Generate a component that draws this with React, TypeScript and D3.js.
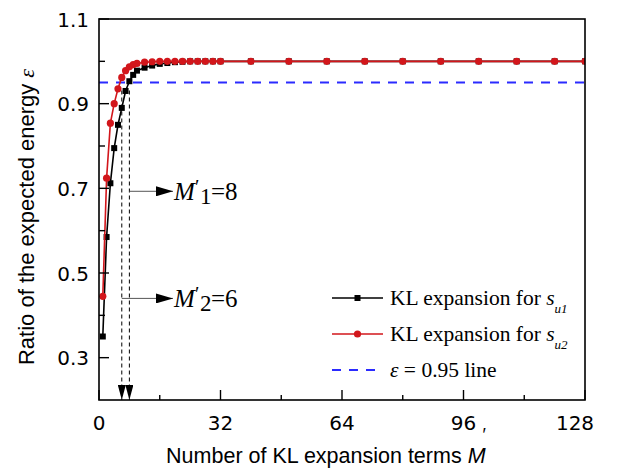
import React from "react";
import * as d3 from "d3";

// Number of KL expansion terms M'
const terms = [1, 2, 3, 4, 5, 6, 7, 8, 9, 10, 12, 14, 16, 18, 20, 22, 24, 26, 28, 30, 32, 40, 50, 60, 70, 80, 90, 100, 110, 120, 128];
// Ratio of the expected energy for s_u1
const ratioSu1 = [0.35, 0.585, 0.712, 0.795, 0.85, 0.89, 0.93, 0.953, 0.968, 0.978, 0.985, 0.99, 0.994, 0.996, 0.998, 0.999, 1.0, 1.0, 1.0, 1.0, 1.0, 1.0, 1.0, 1.0, 1.0, 1.0, 1.0, 1.0, 1.0, 1.0, 1.0];
// Ratio of the expected energy for s_u2
const ratioSu2 = [0.445, 0.724, 0.854, 0.9, 0.935, 0.962, 0.978, 0.987, 0.992, 0.995, 0.998, 0.999, 1.0, 1.0, 1.0, 1.0, 1.0, 1.0, 1.0, 1.0, 1.0, 1.0, 1.0, 1.0, 1.0, 1.0, 1.0, 1.0, 1.0, 1.0, 1.0];
const threshold = 0.95;
const xTicks = [0, 16, 32, 48, 64, 80, 96, 112, 128];
const xTickLabels = [0, 32, 64, 96, 128];
const yTicks = [0.3, 0.4, 0.5, 0.6, 0.7, 0.8, 0.9, 1.0, 1.1];
const yTickLabels = [0.3, 0.5, 0.7, 0.9, 1.1];
// selected number of terms for each process, with the ratio level where the note sits
const chosenTerms = [
  { m: 8, sub: "1", label: "=8", at: 0.693 },
  { m: 6, sub: "2", label: "=6", at: 0.44 },
];

const W = 621;
const H = 470;
const left = 99, right = 585, top = 19, bottom = 400;

const sans = "'Liberation Sans', Arial, sans-serif";
const digits = "'DejaVu Sans', sans-serif";
const serif = "'Liberation Serif', 'Times New Roman', serif";
const RED = "#d2161b";
const BLUE = "#2b2bff";

export default function App() {
  const x = d3.scaleLinear().domain([0, 128]).range([left, right]);
  const y = d3.scaleLinear().domain([0.2, 1.1]).range([bottom, top]);
  const line = d3
    .line<number>()
    .x((_, i) => x(terms[i]))
    .y((v) => y(v));

  const legendY = [298, 334, 370];
  const lx0 = 332, lx1 = 383, tx = 390;
  const noteX = 174;

  return (
    <svg
      width={W}
      height={H}
      style={{ position: "absolute", left: 0, top: 0, background: "#fff" }}
      viewBox={`0 0 ${W} ${H}`}
    >
      <defs>
        <marker id="arrowR" viewBox="0 0 17 10" refX="17" refY="5" markerWidth="17" markerHeight="10" markerUnits="userSpaceOnUse" orient="auto">
          <path d="M0,0 L17,5 L0,10 Z" fill="#000" />
        </marker>
        <marker id="arrowD" viewBox="0 0 15 8" refX="15" refY="4" markerWidth="15" markerHeight="8" markerUnits="userSpaceOnUse" orient="auto">
          <path d="M0,0 L15,4 L0,8 Z" fill="#000" />
        </marker>
        <clipPath id="plotArea">
          <rect x={left} y={top} width={right - left} height={bottom - top} />
        </clipPath>
      </defs>

      {/* threshold line */}
      <line x1={left} x2={right} y1={y(threshold)} y2={y(threshold)} stroke={BLUE} strokeWidth={2.2} strokeDasharray="9,8" />

      {/* dashed drop lines for the chosen number of terms */}
      {chosenTerms.map((c) => (
        <line
          key={"v" + c.m}
          x1={x(c.m)}
          x2={x(c.m)}
          y1={y(threshold) + 8}
          y2={bottom}
          stroke="#000"
          strokeWidth={1}
          strokeDasharray="4,3"
          markerEnd="url(#arrowD)"
        />
      ))}

      {/* series */}
      <g clipPath="url(#plotArea)">
        <path d={line(ratioSu1) || ""} fill="none" stroke="#000" strokeWidth={1.6} />
        {ratioSu1.map((v, i) => (
          <rect key={"a" + i} x={x(terms[i]) - 3} y={y(v) - 3} width={6} height={6} fill="#000" />
        ))}
        <path d={line(ratioSu2) || ""} fill="none" stroke={RED} strokeWidth={1.6} />
        {ratioSu2.map((v, i) => (
          <circle key={"b" + i} cx={x(terms[i])} cy={y(v)} r={3.6} fill={RED} />
        ))}
      </g>

      {/* notes on the selected number of terms */}
      {chosenTerms.map((c) => {
        const ay = y(c.at);
        return (
          <g key={"n" + c.m} fontFamily={serif} fill="#000">
            <line x1={x(c.m)} x2={noteX - 1} y1={ay} y2={ay} stroke="#555" strokeWidth={1} markerEnd="url(#arrowR)" />
            <text x={noteX} y={ay + 9} fontSize={25} fontStyle="italic">M</text>
            <text x={noteX + 21} y={ay + 3} fontSize={20}>′</text>
            <text x={noteX + 26} y={ay + 13} fontSize={23}>{c.sub}</text>
            <text x={noteX + 37} y={ay + 9} fontSize={25}>{c.label}</text>
          </g>
        );
      })}

      {/* frame */}
      <rect x={left} y={top} width={right - left} height={bottom - top} fill="none" stroke="#000" strokeWidth={1.6} />

      {/* x ticks */}
      {xTicks.map((t) => {
        const major = xTickLabels.includes(t);
        return <line key={"xt" + t} x1={x(t)} x2={x(t)} y1={bottom} y2={bottom - (major ? 10 : 5)} stroke="#000" strokeWidth={1.4} />;
      })}
      {xTickLabels.map((t, i) => (
        <text
          key={"xl" + t}
          x={x(t) + (i === xTickLabels.length - 1 ? -10 : 0)}
          y={430}
          textAnchor="middle"
          fontFamily={digits}
          fontSize={20}
          fill="#000"
        >
          {t}
        </text>
      ))}

      {/* y ticks */}
      {yTicks.map((t) => {
        const major = yTickLabels.some((v) => Math.abs(v - t) < 1e-9);
        return <line key={"yt" + t} x1={left} x2={left + (major ? 10 : 6)} y1={y(t)} y2={y(t)} stroke="#000" strokeWidth={1.4} />;
      })}
      {yTickLabels.map((t) => (
        <text key={"yl" + t} x={89} y={y(t) + 7.5} textAnchor="end" fontFamily={digits} fontSize={20} fill="#000">
          {t.toFixed(1)}
        </text>
      ))}

      {/* axis titles */}
      <text x={326} y={463} textAnchor="middle" fontFamily={sans} fontSize={21.5} fill="#000">
        Number of KL expansion terms <tspan fontStyle="italic">M</tspan>
        <tspan dx={-3} dy={-22} fontSize={18}>′</tspan>
      </text>
      <text transform={`translate(34,${217}) rotate(-90)`} textAnchor="middle" fontFamily={sans} fontSize={22} fill="#000">
        Ratio of the expected energy <tspan fontFamily={serif} fontStyle="italic">ε</tspan>
      </text>

      {/* legend */}
      <line x1={lx0} x2={lx1} y1={legendY[0]} y2={legendY[0]} stroke="#000" strokeWidth={1.6} />
      <rect x={(lx0 + lx1) / 2 - 3} y={legendY[0] - 3} width={6} height={6} fill="#000" />
      <text x={tx} y={legendY[0] + 7} fontFamily={serif} fontSize={21.5} fill="#000">
        KL expansion for <tspan fontStyle="italic">s</tspan>
        <tspan fontStyle="italic" fontSize={13} dy={8}>u1</tspan>
      </text>

      <line x1={lx0} x2={lx1} y1={legendY[1]} y2={legendY[1]} stroke={RED} strokeWidth={1.6} />
      <circle cx={(lx0 + lx1) / 2} cy={legendY[1]} r={3.6} fill={RED} />
      <text x={tx} y={legendY[1] + 7} fontFamily={serif} fontSize={21.5} fill="#000">
        KL expansion for <tspan fontStyle="italic">s</tspan>
        <tspan fontStyle="italic" fontSize={13} dy={8}>u2</tspan>
      </text>

      <line x1={lx0} x2={lx1 - 5} y1={legendY[2]} y2={legendY[2]} stroke={BLUE} strokeWidth={2.2} strokeDasharray="9,8" />
      <text x={tx} y={legendY[2] + 7} fontFamily={serif} fontSize={21.5} fill="#000">
        <tspan fontStyle="italic">ε</tspan> = {threshold} line
      </text>
    </svg>
  );
}
